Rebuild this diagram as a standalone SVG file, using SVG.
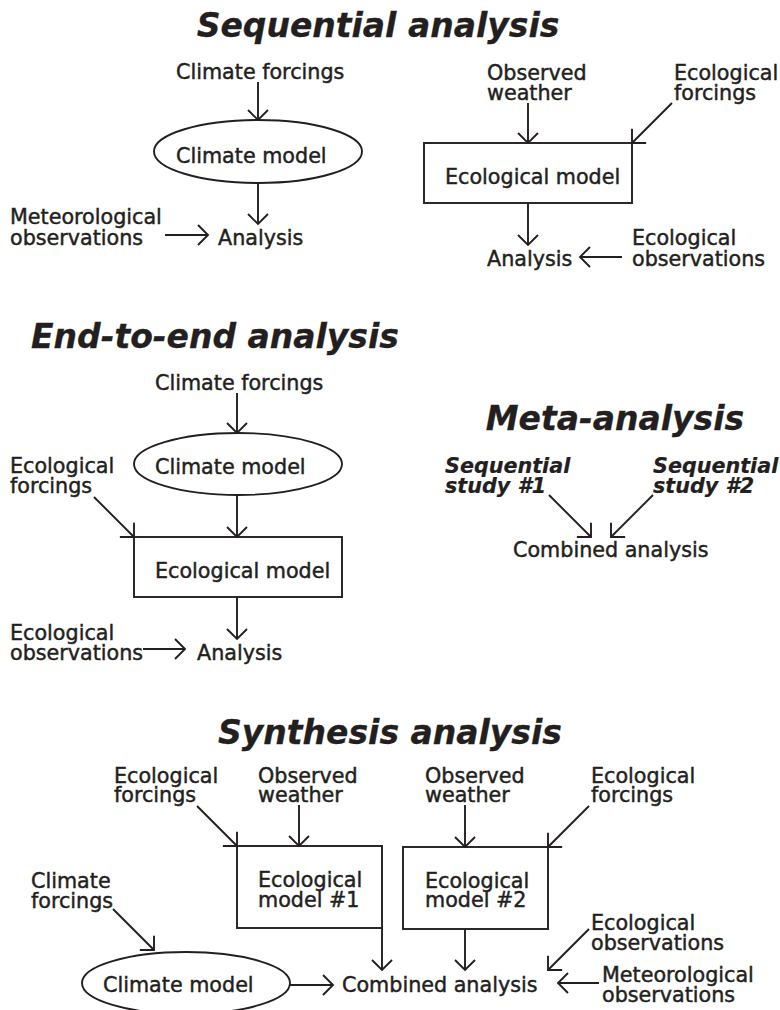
<svg xmlns="http://www.w3.org/2000/svg" width="780" height="1010" viewBox="0 0 780 1010">
<style>
text{font-family:"DejaVu Sans","Liberation Sans",sans-serif;font-size:20.7px;fill:#231f20;stroke:#231f20;stroke-width:0.45}
.title{font-size:33px;font-weight:bold;font-style:oblique;text-anchor:middle;stroke-width:0.3}
.bi{font-weight:bold;font-style:oblique;stroke-width:0.2}
.shape{fill:none;stroke:#231f20;stroke-width:1.9}
.conn line{stroke:#231f20;stroke-width:1.9;fill:none;marker-end:url(#arr)}
</style>
<defs>
<marker id="arr" markerUnits="userSpaceOnUse" markerWidth="26" markerHeight="26" viewBox="-13 -13 26 26" refX="0" refY="0" orient="auto" overflow="visible">
<path d="M-10,-10 L0,0 L-10,10" fill="none" stroke="#231f20" stroke-width="1.9"/>
</marker>
</defs>
<rect width="780" height="1010" fill="#ffffff"/>

<text class="title" x="378" y="37">Sequential analysis</text>
<text class="title" x="215" y="348">End-to-end analysis</text>
<text class="title" x="615" y="430">Meta-analysis</text>
<text class="title" x="390" y="744">Synthesis analysis</text>

<!-- Sequential left -->
<g id="seq-climate-forcings"><text x="176" y="79">Climate forcings</text></g>
<g id="seq-climate-model"><ellipse class="shape" cx="258" cy="151.5" rx="104" ry="31.5"/><text x="176" y="163">Climate model</text></g>
<g id="seq-met-obs"><text x="10" y="224">Meteorological</text><text x="10" y="245">observations</text></g>
<g id="seq-analysis-1"><text x="218" y="245">Analysis</text></g>

<!-- Sequential right -->
<g id="seq-obs-weather"><text x="487" y="80">Observed</text><text x="487" y="100">weather</text></g>
<g id="seq-eco-forcings"><text x="674" y="80">Ecological</text><text x="674" y="100">forcings</text></g>
<g id="seq-eco-model"><rect class="shape" x="424" y="143" width="208" height="60"/><text x="445" y="184">Ecological model</text></g>
<g id="seq-analysis-2"><text x="487" y="266">Analysis</text></g>
<g id="seq-eco-obs"><text x="632" y="245">Ecological</text><text x="632" y="266">observations</text></g>

<!-- End-to-end -->
<g id="e2e-climate-forcings"><text x="155" y="390">Climate forcings</text></g>
<g id="e2e-climate-model"><ellipse class="shape" cx="238" cy="464" rx="104" ry="31"/><text x="155" y="474">Climate model</text></g>
<g id="e2e-eco-forcings"><text x="10" y="473">Ecological</text><text x="10" y="493">forcings</text></g>
<g id="e2e-eco-model"><rect class="shape" x="134" y="537" width="208" height="60"/><text x="155" y="578">Ecological model</text></g>
<g id="e2e-eco-obs"><text x="10" y="640">Ecological</text><text x="10" y="660">observations</text></g>
<g id="e2e-analysis"><text x="197" y="660">Analysis</text></g>

<!-- Meta -->
<g id="meta-study-1"><text class="bi" x="445" y="473">Sequential</text><text class="bi" x="445" y="493">study #1</text></g>
<g id="meta-study-2"><text class="bi" x="653" y="473">Sequential</text><text class="bi" x="653" y="493">study #2</text></g>
<g id="meta-combined"><text x="513" y="557">Combined analysis</text></g>

<!-- Synthesis -->
<g id="syn-eco-forcings-1"><text x="114" y="783">Ecological</text><text x="114" y="802">forcings</text></g>
<g id="syn-obs-weather-1"><text x="258" y="783">Observed</text><text x="258" y="802">weather</text></g>
<g id="syn-eco-model-1"><rect class="shape" x="237" y="846" width="145" height="82"/><text x="258" y="887">Ecological</text><text x="258" y="907">model #1</text></g>
<g id="syn-climate-forcings"><text x="31" y="888">Climate</text><text x="31" y="908">forcings</text></g>
<g id="syn-climate-model"><ellipse class="shape" cx="186" cy="983" rx="104" ry="31"/><text x="103" y="992">Climate model</text></g>
<g id="syn-combined"><text x="342" y="992">Combined analysis</text></g>
<g id="syn-obs-weather-2"><text x="425" y="783">Observed</text><text x="425" y="802">weather</text></g>
<g id="syn-eco-forcings-2"><text x="591" y="783">Ecological</text><text x="591" y="802">forcings</text></g>
<g id="syn-eco-model-2"><rect class="shape" x="403" y="847" width="145" height="82"/><text x="425" y="888">Ecological</text><text x="425" y="907">model #2</text></g>
<g id="syn-eco-obs"><text x="591" y="930">Ecological</text><text x="591" y="950">observations</text></g>
<g id="syn-met-obs"><text x="602" y="982">Meteorological</text><text x="602" y="1002">observations</text></g>

<g id="connectors" class="conn">
<line x1="258" y1="82" x2="258" y2="120"/>
<line x1="258" y1="183" x2="258" y2="224"/>
<line x1="165" y1="235" x2="208" y2="235"/>
<line x1="528" y1="103" x2="528" y2="143"/>
<line x1="672" y1="103" x2="632" y2="143"/>
<line x1="528" y1="203" x2="528" y2="245"/>
<line x1="622" y1="257" x2="580" y2="257"/>

<line x1="237" y1="393" x2="237" y2="433"/>
<line x1="237" y1="495" x2="237" y2="537"/>
<line x1="94" y1="497" x2="134" y2="537"/>
<line x1="237" y1="597" x2="237" y2="639"/>
<line x1="143" y1="649" x2="185" y2="649"/>

<line x1="549" y1="495" x2="591" y2="537"/>
<line x1="653" y1="495" x2="611" y2="537"/>

<line x1="299" y1="805" x2="299" y2="846"/>
<line x1="197" y1="806" x2="237" y2="846"/>
<line x1="382" y1="928" x2="382" y2="970"/>
<line x1="113" y1="909" x2="154" y2="950"/>
<line x1="290" y1="985" x2="333" y2="985"/>
<line x1="465" y1="805" x2="465" y2="847"/>
<line x1="589" y1="806" x2="548" y2="847"/>
<line x1="465" y1="929" x2="465" y2="970"/>
<line x1="589" y1="929" x2="548" y2="970"/>
<line x1="599" y1="983" x2="558" y2="983"/>
</g>
</svg>
